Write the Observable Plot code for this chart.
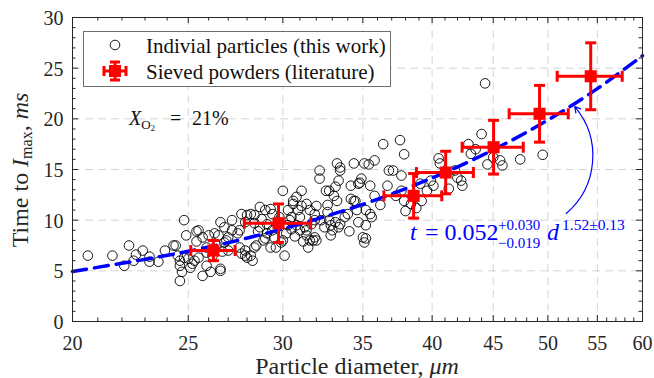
<!DOCTYPE html>
<html><head><meta charset="utf-8">
<script src="https://cdn.jsdelivr.net/npm/d3@7"></script>
<script src="https://cdn.jsdelivr.net/npm/@observablehq/plot@0.6"></script>
<style>
body{margin:0;background:#fff;}
#wrap{position:relative;width:654px;height:378px;font-family:"Liberation Serif","Times New Roman",Times,"DejaVu Serif",serif;}
#wrap svg{font-family:"Liberation Serif","Times New Roman",Times,"DejaVu Serif",serif !important;}
#wrap svg text{font-family:"Liberation Serif","Times New Roman",Times,"DejaVu Serif",serif !important;}
#wrap svg.ov{position:absolute;left:0;top:0;pointer-events:none;}
</style></head><body><div id="wrap"></div>
<script>
// Individual particles (this work): diameter (µm) and time to I_max (ms)
const particleD = [
 20.6,21.6,22.1,22.3,22.5,22.6,22.9,23.2,23.2,23.6,23.9,24.3,
 24.8,24.9,25.4,25.4,24.4,24.5,24.6,24.6,24.7,24.6,25.0,25.2,25.3,25.7,26.1,26.6,25.5,25.1,24.8,25.9,25.7,25.9,26.3,26.5,26.9,26.8,26.6,25.5,26.0,26.8,26.6,25.9,26.2,26.4,26.7,
 27.2,27.5,27.6,27.9,27.9,28.2,28.3,28.5,27.7,28.2,27.9,28.7,29.0,29.3,29.4,28.8,29.1,28.7,29.1,28.9,29.5,29.3,29.6,27.2,27.0,27.6,27.0,27.7,28.0,28.4,28.0,28.4,29.0,29.9,28.6,29.7,29.8,29.4,28.4,
 30.1,30.0,30.6,30.8,31.1,31.4,31.6,32.0,32.2,32.2,32.6,32.7,32.7,31.9,31.3,31.4,31.9,32.0,30.8,30.3,30.0,31.1,30.6,30.9,30.3,30.5,31.0,31.9,32.3,31.0,31.4,31.6,31.8,31.5,30.5,30.2,30.7,31.2,30.4,31.7,
 33.3,34.4,33.5,33.4,33.2,32.8,34.2,34.7,33.1,33.3,34.4,32.8,33.2,33.5,32.9,32.5,33.4,34.0,34.7,32.9,33.5,34.9,34.8,34.5,34.6,34.2,35.0,35.2,35.1,33.0,34.1,33.8,
 36.4,37.6,37.9,35.8,35.1,35.4,36.8,37.1,37.7,35.5,36.7,35.8,37.3,37.9,35.2,35.5,35.6,35.2,39.2,39.6,39.9,39.1,37.7,36.2,38.4,38.8,38.0,
 40.5,40.6,41.8,42.3,42.4,40.1,41.3,42.0,44.0,42.9,43.1,43.5,44.5,45.0,45.6,45.8,47.4,49.5,44.3
];
const particleT = [
 6.5,6.5,5.5,7.5,6.0,6.6,7.0,6.4,5.9,5.9,7.0,7.5,
 10.0,8.5,8.9,7.9,7.5,6.5,6.0,5.5,4.9,4.0,6.2,5.7,6.0,4.5,4.9,5.0,6.3,5.3,6.3,6.8,8.3,7.3,8.7,8.5,8.0,9.3,9.8,9.0,8.5,7.8,5.2,5.5,6.5,7.5,6.9,
 10.0,8.7,7.3,7.0,6.5,6.5,6.0,7.5,10.6,10.6,9.8,11.3,11.0,11.1,10.6,10.1,9.6,9.3,8.7,8.0,8.3,7.3,7.3,9.0,8.3,9.0,7.0,6.7,6.3,7.3,10.5,10.5,8.2,7.8,8.9,9.5,10.3,9.0,9.7,
 6.5,12.9,11.6,12.3,11.4,11.6,11.0,11.4,14.9,14.1,12.9,11.5,10.8,10.0,9.3,9.0,8.3,8.0,9.5,9.5,8.0,12.9,11.9,11.0,11.0,10.3,10.3,10.6,10.0,9.0,8.5,8.0,8.0,7.3,9.1,8.7,8.4,7.9,10.0,9.6,
 15.6,15.6,14.9,13.9,13.3,12.9,13.4,13.6,12.4,11.9,11.9,10.0,9.8,9.6,9.5,9.3,9.3,10.6,9.8,8.5,15.2,14.1,13.7,11.9,11.0,12.1,8.3,8.2,7.8,9.0,8.9,10.3,
 17.5,17.9,16.5,15.9,15.6,15.5,14.9,14.9,14.4,13.4,13.4,12.4,12.4,11.9,11.0,10.6,10.3,9.5,11.9,12.9,13.9,13.6,12.9,11.5,11.6,11.2,10.9,
 16.1,15.6,14.9,13.9,13.4,13.4,13.1,14.2,18.5,17.5,16.55,17.0,15.5,16.2,15.9,15.4,16.0,16.45,23.5
];
// Sieved powders (literature): centre values and half-widths of error bars
const sievedD = [26.24, 29.75, 38.6, 41.06, 45.03, 49.2, 54.3];
const sievedT = [7.0, 9.7, 12.4, 14.7, 17.2, 20.5, 24.2];
const sievedDErr = [1.12, 1.9, 2.15, 2.25, 2.65, 2.8, 3.4];
const sievedTErr = [1.0, 1.9, 2.2, 2.1, 2.65, 2.8, 3.3];
// Fit curve
const fitD = [20, 25, 30, 35, 40, 45, 50, 55, 60];
const fitT = [4.94, 6.93, 9.15, 11.56, 14.16, 16.94, 19.88, 22.98, 26.23];
// Ticks
const xTicks = [20, 25, 30, 35, 40, 45, 50, 55, 60];
const yTicks = [0, 5, 10, 15, 20, 25, 30];
const xMinor = d3.range(21, 60).filter(v => v % 5 !== 0);
const yMinor = d3.range(1, 30).filter(v => v % 5 !== 0);
// Annotation arrow (from equation to curve)
const arrowStart = [51.8, 10.66];
const arrowEnd = [52.65, 21.2];

const particles = particleD.map((d, i) => ({d, t: particleT[i]}));
const sieved = sievedD.map((d, i) => ({
  d, t: sievedT[i],
  dlo: d - sievedDErr[i], dhi: d + sievedDErr[i],
  tlo: sievedT[i] - sievedTErr[i], thi: sievedT[i] + sievedTErr[i]
}));
const fit = fitD.map((d, i) => ({d, t: fitT[i]}));
const arrows = [{x1: arrowStart[0], y1: arrowStart[1], x2: arrowEnd[0], y2: arrowEnd[1]}];

const W = 654, H = 378, ml = 72, mr = 12, mt = 17, mb = 57;
const pw = W - ml - mr, ph = H - mt - mb;
const vbar = {draw(ctx, size) { const r = Math.sqrt(size / Math.PI); ctx.moveTo(0, -r); ctx.lineTo(0, r); }};
const hbar = {draw(ctx, size) { const r = Math.sqrt(size / Math.PI); ctx.moveTo(-r, 0); ctx.lineTo(r, 0); }};
const RED = "#ff0000", BLUE = "#0000ff", AX = "#262626";
const SERIF = "'Liberation Serif', 'Times New Roman', Times, 'DejaVu Serif', serif";
const grid = {stroke: "#d4d4d4", strokeOpacity: 1, strokeWidth: 1, strokeDasharray: "8,5"};
const capOpt = {stroke: RED, strokeWidth: 3, fill: "none", r: 5.5};

const chart = Plot.plot({
  width: W, height: H,
  marginLeft: ml, marginRight: mr, marginTop: mt, marginBottom: mb,
  x: {type: "log", domain: [20, 60]},
  y: {domain: [0, 30]},
  style: {fontFamily: SERIF, fontSize: "20px", color: AX, background: "white", overflow: "visible"},
  marks: [
    Plot.gridX(xTicks.slice(1, -1), grid),
    Plot.gridY(yTicks.slice(1, -1), grid),
    Plot.dot(particles, {x: "d", y: "t", r: 4.8, stroke: "black", strokeWidth: 0.9, fill: "none"}),
    Plot.line(fit, {x: "d", y: "t", curve: "natural", stroke: BLUE, strokeWidth: 3.5, strokeDasharray: "14,8"}),
    Plot.ruleY(sieved, {y: "t", x1: "dlo", x2: "dhi", stroke: RED, strokeWidth: 3}),
    Plot.ruleX(sieved, {x: "d", y1: "tlo", y2: "thi", stroke: RED, strokeWidth: 3}),
    Plot.dot(sieved, {x: "dlo", y: "t", symbol: vbar, ...capOpt}),
    Plot.dot(sieved, {x: "dhi", y: "t", symbol: vbar, ...capOpt}),
    Plot.dot(sieved, {x: "d", y: "tlo", symbol: hbar, ...capOpt}),
    Plot.dot(sieved, {x: "d", y: "thi", symbol: hbar, ...capOpt}),
    Plot.dot(sieved, {x: "d", y: "t", symbol: "square", r: 6.8, fill: RED, stroke: "none"}),
    Plot.arrow(arrows, {x1: "x1", y1: "y1", x2: "x2", y2: "y2", bend: -45, stroke: BLUE, strokeWidth: 1.2, headLength: 8}),
    Plot.tickX(xTicks, {x: d => d, insetTop: ph - 6, stroke: AX}),
    Plot.tickX(xTicks, {x: d => d, insetBottom: ph - 6, stroke: AX}),
    Plot.tickX(xMinor, {x: d => d, insetTop: ph - 3.5, stroke: AX}),
    Plot.tickX(xMinor, {x: d => d, insetBottom: ph - 3.5, stroke: AX}),
    Plot.tickY(yTicks, {y: d => d, insetRight: pw - 6, stroke: AX}),
    Plot.tickY(yTicks, {y: d => d, insetLeft: pw - 6, stroke: AX}),
    Plot.tickY(yMinor, {y: d => d, insetRight: pw - 3.5, stroke: AX}),
    Plot.tickY(yMinor, {y: d => d, insetLeft: pw - 3.5, stroke: AX}),
    Plot.axisX(xTicks, {tickSize: 0, tickPadding: 14, label: null, fontFamily: SERIF, tickFormat: d => String(d)}),
    Plot.axisY(yTicks, {tickSize: 0, tickPadding: 9, label: null, dy: 1, fontFamily: SERIF, tickFormat: d => String(d)}),
    Plot.frame({stroke: AX, strokeWidth: 1})
  ]
});
const wrap = document.getElementById("wrap");
wrap.appendChild(chart);

const ov = `
<svg class="ov" width="654" height="378" xmlns="http://www.w3.org/2000/svg" style="font-family:${SERIF}">
  <rect x="83.5" y="31.5" width="307" height="55" fill="white" stroke="#6e6e6e" stroke-width="1"/>
  <circle cx="115" cy="45" r="4.8" fill="none" stroke="black" stroke-width="0.9"/>
  <text x="146" y="53" font-size="21" fill="#111">Indivial particles (this work)</text>
  <g stroke="${RED}" stroke-width="3" fill="none">
    <line x1="104" x2="126" y1="71" y2="71"/>
    <line x1="115" x2="115" y1="62" y2="80"/>
    <line x1="104" x2="104" y1="66" y2="76"/>
    <line x1="126" x2="126" y1="66" y2="76"/>
    <line x1="110" x2="120" y1="62" y2="62"/>
    <line x1="110" x2="120" y1="80" y2="80"/>
  </g>
  <rect x="109" y="65" width="12" height="12" fill="${RED}"/>
  <text x="146" y="79" font-size="21" fill="#111">Sieved powders (literature)</text>

  <text y="125" font-size="20" fill="#111"><tspan x="129" font-style="italic">X</tspan><tspan font-size="13" dy="4">O</tspan><tspan font-size="9" dy="2">2</tspan><tspan x="170" dy="-6">=</tspan><tspan x="192">21%</tspan></text>

  <text fill="${BLUE}" font-size="24"><tspan x="410" y="240" font-style="italic">t</tspan><tspan x="425" y="240">= 0.052</tspan><tspan x="498" y="229.5" font-size="15">+0.030</tspan><tspan x="498" y="248" font-size="15">−0.019</tspan><tspan x="547" y="240" font-style="italic">d</tspan><tspan x="562" y="230" font-size="15.5">1.52±0.13</tspan></text>

  <text x="357" y="374" text-anchor="middle" font-size="24" fill="${AX}">Particle diameter, <tspan font-style="italic">μm</tspan></text>
  <text transform="translate(28,170) rotate(-90)" text-anchor="middle" font-size="24" fill="${AX}">Time to <tspan font-style="italic">I</tspan><tspan font-size="16" dy="4">max</tspan><tspan dy="-4">, </tspan><tspan font-style="italic">ms</tspan></text>
</svg>`;
wrap.insertAdjacentHTML("beforeend", ov);
</script>
</body></html>
